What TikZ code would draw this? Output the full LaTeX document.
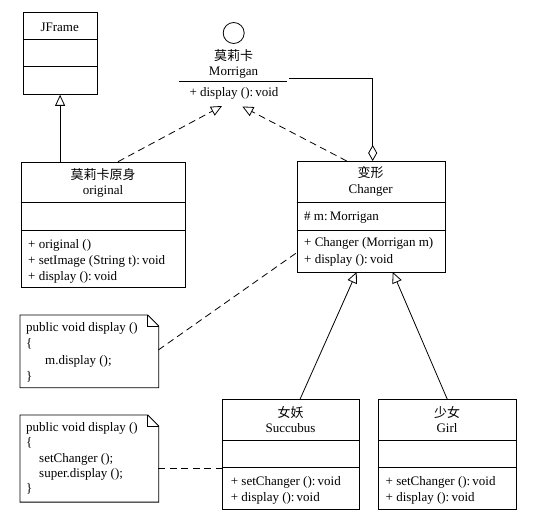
\documentclass[tikz,border=0pt]{standalone}
\usepackage{fontspec}
\setmainfont{Liberation Serif}
\newfontfamily\cjk{Noto Sans CJK SC}
\usetikzlibrary{arrows.meta}
\begin{document}
\begin{tikzpicture}[x=1pt,y=-1pt,
  font=\fontsize{13}{16}\selectfont,
  lw/.style={line width=0.8pt},
  box/.style={draw, lw, rectangle, inner sep=0, anchor=north west},
  ctr/.style={inner sep=0, anchor=base},
  lft/.style={inner sep=0, anchor=base west},
  gen/.style={lw, -{Triangle[open, length=11pt, width=10pt]}},
  real/.style={lw, dash pattern=on 7pt off 4.5pt, -{Triangle[open, length=11pt, width=10pt]}},
  agg/.style={lw, -{Diamond[open, length=16pt, width=9pt]}},
  dsh/.style={lw, dash pattern=on 7pt off 4.5pt}]
\useasboundingbox (0,0) rectangle (550,519);

% JFrame
\node[box, minimum width=74, minimum height=82.3] (jframe) at (22.7,11.7) {};
\draw[lw] (22.7,39.3) -- (96.7,39.3);
\draw[lw] (22.7,66.7) -- (96.7,66.7);
\node[ctr] (jft) at (59.7,31.5) {JFrame};

% Interface Morrigan
\node[draw, lw, circle, minimum size=21, inner sep=0] (ifc) at (233.7,33) {};
\node[ctr] (ifn1) at (233.5,60.5) {\cjk 莫莉卡};
\node[ctr] (ifn2) at (233.5,76) {Morrigan};
\draw[lw] (179.3,81.7) -- (286.7,81.7);
\node[ctr] (ifm) at (234,97) {+ display ():\,void};

% original
\node[box, minimum width=164.6, minimum height=125.6] (orig) at (20.7,161.7) {};
\draw[lw] (20.7,202.7) -- (185.3,202.7);
\draw[lw] (20.7,230.7) -- (185.3,230.7);
\node[ctr] (ot1) at (103,179.5) {\cjk 莫莉卡原身};
\node[ctr] (ot2) at (103,194.5) {original};
\node[lft] (om1) at (28,248) {+ original ()};
\node[lft] (om2) at (28,264) {+ setImage (String t):\,void};
\node[lft] (om3) at (28,280) {+ display ():\,void};

% Changer
\node[box, minimum width=148, minimum height=111] (chg) at (296.7,161) {};
\draw[lw] (296.7,202.7) -- (444.7,202.7);
\draw[lw] (296.7,230) -- (444.7,230);
\node[ctr] (ct1) at (370.7,178) {\cjk 变形};
\node[ctr] (ct2) at (370.7,193.8) {Changer};
\node[lft] (ca1) at (304,220.5) {\# m:\,Morrigan};
\node[lft] (cm1) at (304,247) {+ Changer (Morrigan m)};
\node[lft] (cm2) at (304,263) {+ display ():\,void};

% Succubus
\node[box, minimum width=137.6, minimum height=110] (suc) at (221.7,399.3) {};
\draw[lw] (221.7,440.7) -- (359.3,440.7);
\draw[lw] (221.7,467.7) -- (359.3,467.7);
\node[ctr] (st1) at (290.5,417) {\cjk 女妖};
\node[ctr] (st2) at (290.5,432.8) {Succubus};
\node[lft] (sm1) at (230.7,485) {+ setChanger ():\,void};
\node[lft] (sm2) at (230.7,501) {+ display ():\,void};

% Girl
\node[box, minimum width=137.4, minimum height=110] (girl) at (378.3,399.3) {};
\draw[lw] (378.3,440.7) -- (515.7,440.7);
\draw[lw] (378.3,467.7) -- (515.7,467.7);
\node[ctr] (gt1) at (447,417) {\cjk 少女};
\node[ctr] (gt2) at (447,432.8) {Girl};
\node[lft] (gm1) at (385.5,485) {+ setChanger ():\,void};
\node[lft] (gm2) at (385.5,501) {+ display ():\,void};

% Notes
\node[inner sep=0, minimum width=138.3, minimum height=72.3, anchor=north west] (n1) at (20,315) {};
\draw[lw] (n1.south west) -- (n1.north west) -- ([xshift=-11pt]n1.north east) -- ([yshift=-11pt]n1.north east) -- (n1.south east) -- cycle;
\draw[lw] ([xshift=-11pt]n1.north east) -- ([xshift=-11pt,yshift=-11pt]n1.north east) -- ([yshift=-11pt]n1.north east);
\node[lft] (n1a) at (26,331) {public void display ()};
\node[lft] (n1b) at (26,347) {\{};
\node[lft] (n1c) at (45,364) {m.display ();};
\node[lft] (n1d) at (26,380.5) {\}};

\node[inner sep=0, minimum width=138.3, minimum height=86.7, anchor=north west] (n2) at (20,415) {};
\draw[lw] (n2.south west) -- (n2.north west) -- ([xshift=-11pt]n2.north east) -- ([yshift=-11pt]n2.north east) -- (n2.south east) -- cycle;
\draw[lw] ([xshift=-11pt]n2.north east) -- ([xshift=-11pt,yshift=-11pt]n2.north east) -- ([yshift=-11pt]n2.north east);
\node[lft] (n2a) at (26,431) {public void display ()};
\node[lft] (n2b) at (26,446.5) {\{};
\node[lft] (n2c) at (39,462.5) {setChanger ();};
\node[lft] (n2d) at (39,477) {super.display ();};
\node[lft] (n2e) at (26,492) {\}};

% connector coordinates
\coordinate (o1) at (118,161.7);
\coordinate (i1) at (222,106);
\coordinate (c0) at (346.7,161);
\coordinate (i2) at (242.3,106.5);
\coordinate (a0) at (289,78.3);
\coordinate (a1) at (372.7,161);
\coordinate (s1) at (300,399.3);
\coordinate (c1) at (356.7,272);
\coordinate (g1) at (447.3,399.3);
\coordinate (c2) at (392.7,272);
\coordinate (n1e) at (158.3,350);
\coordinate (cw) at (296.7,252.7);
\coordinate (n2r) at (158.3,468);
\coordinate (sw) at (221.7,468);

% connectors
\draw[gen] (jframe.south |- orig.north) -- (jframe.south);
\draw[real] (o1) -- (i1);
\draw[real] (c0) -- (i2);
\draw[agg] (a0) -| (a1);
\draw[gen] (s1) -- (c1);
\draw[gen] (g1) -- (c2);
\draw[dsh] (n1e) -- (cw);
\draw[dsh] (n2r) -- (sw);
\end{tikzpicture}
\end{document}
